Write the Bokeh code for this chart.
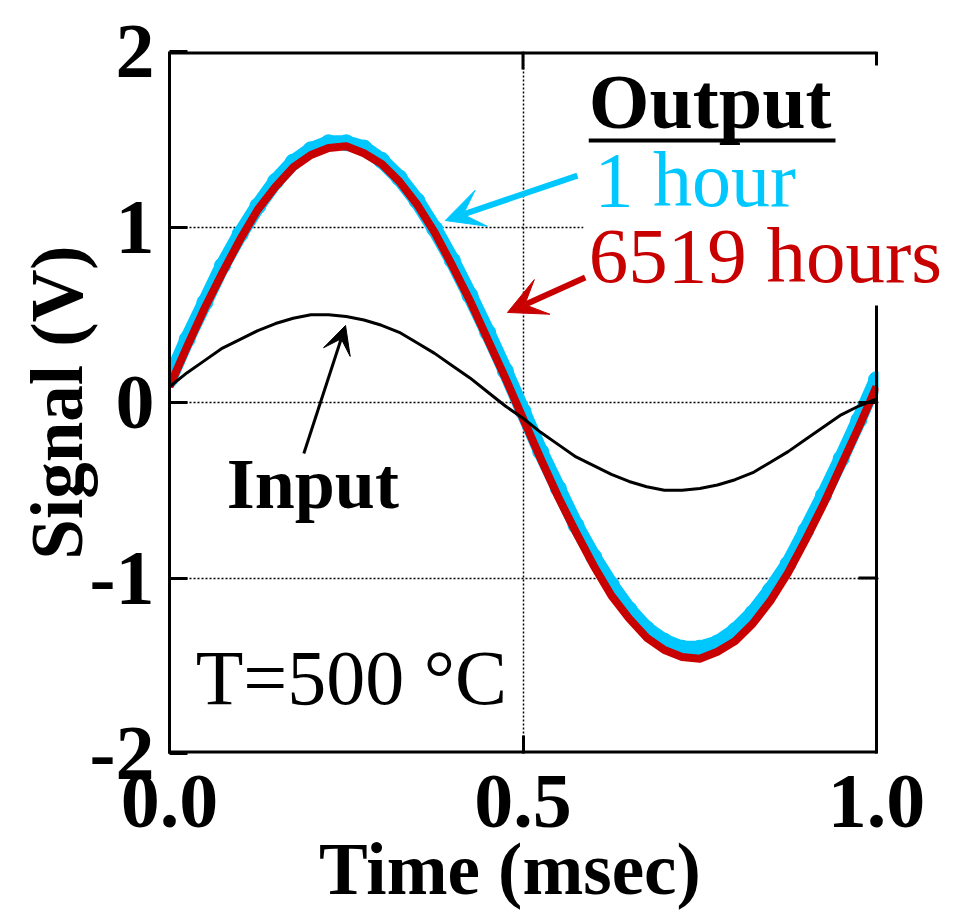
from bokeh.plotting import figure
from bokeh.models import (Range1d, FixedTicker, CustomJSTickFormatter, PrintfTickFormatter,
                          Label, Arrow, VeeHead, BoxAnnotation)
from bokeh.embed import file_html
from bokeh.resources import INLINE

# ---- data ----
time_ms = [0.0, 0.025, 0.05, 0.075, 0.1, 0.125, 0.15, 0.175, 0.2, 0.225,
           0.25, 0.275, 0.3, 0.325, 0.35, 0.375, 0.4, 0.425, 0.45, 0.475,
           0.5, 0.525, 0.55, 0.575, 0.6, 0.625, 0.65, 0.675, 0.7, 0.725,
           0.75, 0.775, 0.8, 0.825, 0.85, 0.875, 0.9, 0.925, 0.95, 0.975, 1.0]
input_v = [0.09, 0.17, 0.24, 0.31, 0.36, 0.41, 0.45, 0.48, 0.50, 0.50,
           0.49, 0.47, 0.44, 0.40, 0.34, 0.28, 0.21, 0.14, 0.06, -0.02,
           -0.09, -0.17, -0.24, -0.31, -0.36, -0.41, -0.45, -0.48, -0.50, -0.50,
           -0.49, -0.47, -0.44, -0.40, -0.34, -0.28, -0.21, -0.14, -0.07, -0.02, 0.02]
out_1h = [0.13, 0.36, 0.57, 0.78, 0.96, 1.12, 1.26, 1.37, 1.44, 1.48,
          1.48, 1.45, 1.38, 1.28, 1.15, 0.99, 0.81, 0.61, 0.40, 0.18,
          -0.05, -0.28, -0.49, -0.70, -0.88, -1.04, -1.18, -1.29, -1.36, -1.40,
          -1.40, -1.37, -1.30, -1.20, -1.07, -0.92, -0.73, -0.53, -0.32, -0.10, 0.13]
out_6519h = [0.09, 0.32, 0.54, 0.74, 0.93, 1.10, 1.23, 1.34, 1.41, 1.45,
             1.46, 1.42, 1.36, 1.26, 1.13, 0.97, 0.78, 0.58, 0.36, 0.14,
             -0.09, -0.32, -0.54, -0.74, -0.93, -1.10, -1.23, -1.34, -1.41, -1.45,
             -1.46, -1.42, -1.36, -1.26, -1.13, -0.97, -0.78, -0.58, -0.36, -0.14, 0.09]
x_ticks = [0.0, 0.5, 1.0]
y_ticks = [-2, -1, 0, 1, 2]
x_grid = [0.5]
y_grid = [-1, 0, 1]
X_MAX = 1.0  # right edge of the data box

CYAN = "#00C8FF"
RED = "#C80000"
FONT = "Liberation Serif"

# the frame is widened to the right so that the legend text may run past x = 1.0
p = figure(frame_width=772, frame_height=702,
           x_range=Range1d(0, 772 / 707), y_range=Range1d(-2, 2),
           output_backend="svg", toolbar_location=None,
           min_border_left=169, min_border_right=8, min_border_top=51, min_border_bottom=150)
p.outline_line_color = None
p.background_fill_color = "white"
p.border_fill_color = "white"

# axes
p.xaxis.ticker = FixedTicker(ticks=x_ticks)
p.yaxis.ticker = FixedTicker(ticks=y_ticks)
p.xaxis.formatter = CustomJSTickFormatter(code="return tick.toFixed(1) + '\\n'")
p.yaxis.formatter = PrintfTickFormatter(format="%d")
p.xaxis.axis_label = "Time (msec)" + "\u00a0" * 5
p.yaxis.axis_label = "Signal (V)"
for ax in (p.xaxis[0], p.yaxis[0]):
    ax.axis_line_width = 3
    ax.axis_line_color = "black"
    ax.major_tick_in = 18
    ax.major_tick_out = 0
    ax.major_tick_line_width = 3
    ax.minor_tick_line_color = None
    ax.major_label_text_font = FONT
    ax.major_label_text_font_style = "bold"
    ax.major_label_text_font_size = "78px"
    ax.major_label_text_color = "black"
    ax.axis_label_text_font = FONT
    ax.axis_label_text_font_style = "bold"
    ax.axis_label_text_font_size = "73px"
    ax.axis_label_text_color = "black"
p.xaxis.axis_line_color = None
p.xaxis.major_label_text_line_height = -0.25
p.xaxis.major_label_standoff = 3
p.xaxis.axis_label_standoff = 4
p.yaxis.major_label_standoff = 15
p.yaxis.axis_label_standoff = -11

# grid
p.xgrid.ticker = FixedTicker(ticks=x_grid)
p.ygrid.ticker = FixedTicker(ticks=y_grid)
for g in (p.xgrid[0], p.ygrid[0]):
    g.grid_line_color = "black"
    g.grid_line_dash = "2 2"
    g.grid_line_width = 1.5

# curves
p.line(time_ms, out_1h, color=CYAN, line_width=15, line_join="round", line_cap="round")
p.scatter(time_ms, out_1h, size=16, color=CYAN)
p.line(time_ms, out_6519h, color=RED, line_width=8, line_join="round")
p.line(time_ms, input_v, color="black", line_width=3)

# inward ticks on the right and top edges of the data box
p.segment(x0=[X_MAX - 18 / 707] * len(y_grid), y0=y_grid, x1=[X_MAX] * len(y_grid), y1=y_grid,
          line_color="black", line_width=3)
p.segment(x0=x_grid, y0=[2 - 18 / 175.5] * len(x_grid), x1=x_grid, y1=[2] * len(x_grid),
          line_color="black", line_width=3)

# box edges (top, bottom, right)
def edge(x0, y0, x1, y1, w):
    p.add_layout(Arrow(start=None, end=None, x_start=x0, y_start=y0, x_end=x1, y_end=y1,
                       line_color="black", line_width=w))

edge(0, 2, X_MAX, 2, 6)
edge(0, -2, X_MAX, -2, 6)
edge(X_MAX, -2, X_MAX, 2, 3)

# white area right of the data box, and white box behind the legend text
p.add_layout(BoxAnnotation(left=X_MAX + 2 / 707, fill_color="white", fill_alpha=1, line_color=None))
p.add_layout(BoxAnnotation(left=0.5856, top=1.92, bottom=0.553, fill_color="white",
                           fill_alpha=1, line_color=None))

def lab(x, y, text, color="black", size="78px", style="normal"):
    p.add_layout(Label(x=x, y=y, text=text, text_color=color, text_font=FONT,
                       text_font_size=size, text_font_style=style,
                       text_baseline="middle", text_align="left"))

lab(0.593, 1.715, "Output", style="bold")
lab(0.601, 1.271, "1 hour", color=CYAN)
lab(0.593, 0.835, "6519 hours", color=RED, size="79px")
lab(0.081, -0.466, "Input", size="72px", style="bold")
lab(0.037, -1.565, "T=500 °C")

# underline of "Output"
p.add_layout(Arrow(start=None, end=None, x_start=0.593, y_start=1.493, x_end=0.942, y_end=1.493,
                   line_color="black", line_width=4))

# arrows
p.add_layout(Arrow(end=VeeHead(size=38, fill_color=CYAN, line_color=CYAN, line_width=1),
                   x_start=0.577, y_start=1.293, x_end=0.390, y_end=1.037,
                   line_color=CYAN, line_width=6))
p.add_layout(Arrow(end=VeeHead(size=38, fill_color=RED, line_color=RED, line_width=1),
                   x_start=0.588, y_start=0.712, x_end=0.478, y_end=0.513,
                   line_color=RED, line_width=6))
p.add_layout(Arrow(end=VeeHead(size=28, fill_color="black", line_color="black", line_width=1),
                   x_start=0.190, y_start=-0.291, x_end=0.249, y_end=0.439,
                   line_color="black", line_width=3))

open("out.html", "w").write(file_html(p, INLINE))
